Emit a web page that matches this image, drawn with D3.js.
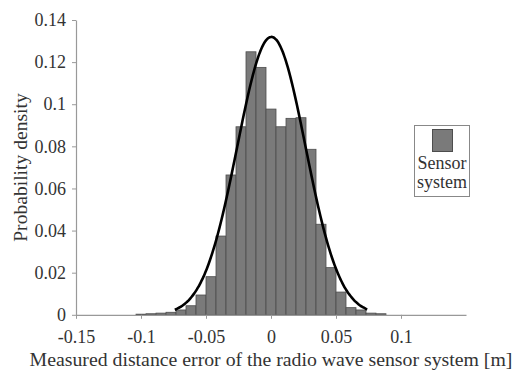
<!DOCTYPE html>
<html>
<head>
<meta charset="utf-8">
<script src="https://cdn.jsdelivr.net/npm/d3@7"></script>
<style>
body { margin: 0; background: #fff; }
</style>
</head>
<body>
<div id="chart"></div>
<script>
// histogram of measured error, relative frequency per bin
var binWidth = 0.1 / 13;
var firstBin = -13;   // index of first bin, center = index * binWidth
var density = [0.0003, 0.0005, 0.0008, 0.0012, 0.0023, 0.0043, 0.0094, 0.0181,
               0.0374, 0.0664, 0.0893, 0.1249, 0.1175, 0.0977, 0.0893, 0.0933,
               0.0936, 0.0786, 0.0430, 0.0224, 0.0108, 0.0034, 0.0023, 0.0008, 0.0005];

// fitted normal curve
var fitMean = 0.0003;
var fitSigma = 0.0262;
var fitPeak = 0.132;
var fitRange = [-0.074, 0.074];

var xTicks = [-0.15, -0.1, -0.05, 0, 0.05, 0.1];
var xTickLabels = ["-0.15", "-0.1", "-0.05", "0", "0.05", "0.1"];
var yTicks = [0, 0.02, 0.04, 0.06, 0.08, 0.1, 0.12, 0.14];
var yTickLabels = ["0", "0.02", "0.04", "0.06", "0.08", "0.1", "0.12", "0.14"];

var w = 513;
var h = 372;
var serif = "'Liberation Serif', 'Times New Roman', Times, serif";

var svg = d3.select("#chart")
            .append("svg")
            .attr("width", w)
            .attr("height", h)
            .style("font-family", serif);

var x = d3.scaleLinear().domain([-0.15, 0.15]).range([76, 466]);
var y = d3.scaleLinear().domain([0, 0.14]).range([314.8, 20]);

var bins = density.map(function(d, i) {
    var c = (firstBin + i) * binWidth;
    return {x0: c - binWidth / 2, x1: c + binWidth / 2, v: d};
});

svg.selectAll("rect.bar")
    .data(bins)
    .enter()
    .append("rect")
    .attr("class", "bar")
    .attr("x", function(d) { return x(d.x0); })
    .attr("width", function(d) { return x(d.x1) - x(d.x0); })
    .attr("y", function(d) { return y(d.v); })
    .attr("height", function(d) { return y(0) - y(d.v); })
    .attr("fill", "#7a7a7a")
    .attr("stroke", "#4d4d4d")
    .attr("stroke-width", 0.8);

// axes
var xAxis = svg.append("g")
    .attr("transform", "translate(0," + y(0) + ")")
    .call(d3.axisBottom(x).tickValues(xTicks)
          .tickFormat(function(d, i) { return xTickLabels[i]; })
          .tickSize(4).tickSizeOuter(0).tickPadding(11));

var yAxis = svg.append("g")
    .attr("transform", "translate(" + x(-0.15) + ",0)")
    .call(d3.axisLeft(y).tickValues(yTicks)
          .tickFormat(function(d, i) { return yTickLabels[i]; })
          .tickSize(4).tickSizeOuter(0).tickPadding(6));

[xAxis, yAxis].forEach(function(g) {
    g.attr("font-family", null).attr("font-size", null);
    g.select(".domain").attr("stroke", "#999").attr("stroke-width", 1.2);
    g.selectAll(".tick line").attr("stroke", "#999");
    g.selectAll(".tick text")
     .style("font-family", serif)
     .style("font-size", "18px")
     .attr("fill", "#333");
});

// fitted curve
var curvePts = d3.range(fitRange[0], fitRange[1] + 1e-9, 0.001).map(function(v) {
    var z = (v - fitMean) / fitSigma;
    return [v, fitPeak * Math.exp(-0.5 * z * z)];
});

svg.append("path")
    .datum(curvePts)
    .attr("fill", "none")
    .attr("stroke", "#000")
    .attr("stroke-width", 2.6)
    .attr("d", d3.line()
        .x(function(d) { return x(d[0]); })
        .y(function(d) { return y(d[1]); })
        .curve(d3.curveBasis));

// axis titles
svg.append("text")
    .attr("x", 271)
    .attr("y", 366)
    .attr("text-anchor", "middle")
    .attr("fill", "#333")
    .style("font-size", "19.8px")
    .text("Measured distance error of the radio wave sensor system [m]");

svg.append("text")
    .attr("transform", "translate(27,167.5) rotate(-90)")
    .attr("text-anchor", "middle")
    .attr("fill", "#333")
    .style("font-size", "19.6px")
    .text("Probability density");

// legend
var legend = svg.append("g");
legend.append("rect")
    .attr("x", 414.5).attr("y", 125.5)
    .attr("width", 55).attr("height", 71)
    .attr("fill", "#fff")
    .attr("stroke", "#888");
legend.append("rect")
    .attr("x", 432.5).attr("y", 129.5)
    .attr("width", 20).attr("height", 22)
    .attr("fill", "#7a7a7a")
    .attr("stroke", "#4d4d4d");
legend.append("text")
    .attr("x", 442).attr("y", 169)
    .attr("text-anchor", "middle")
    .attr("fill", "#333")
    .style("font-size", "18px")
    .text("Sensor");
legend.append("text")
    .attr("x", 442).attr("y", 188)
    .attr("text-anchor", "middle")
    .attr("fill", "#333")
    .style("font-size", "18px")
    .text("system");
</script>
</body>
</html>
